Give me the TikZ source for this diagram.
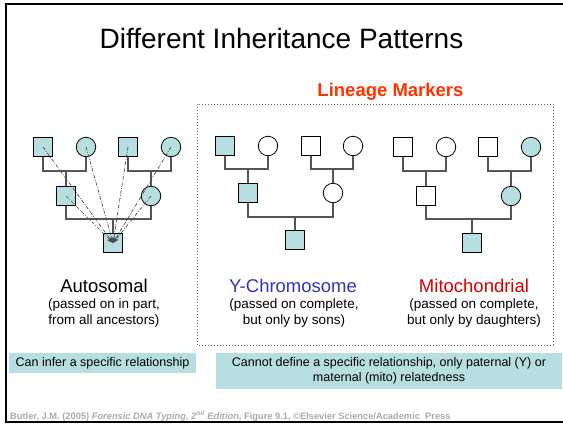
\documentclass[tikz,border=0pt]{standalone}
\usepackage{fontspec}
\setmainfont{Liberation Sans}
\usetikzlibrary{arrows.meta}

\definecolor{kin}{RGB}{183,222,224}
\definecolor{linkgray}{RGB}{85,85,85}
\definecolor{ychrom}{RGB}{51,51,187}
\definecolor{mito}{RGB}{214,0,0}
\definecolor{lineage}{RGB}{255,51,0}
\definecolor{credit}{RGB}{170,170,170}

\tikzset{
male/.style={rectangle, draw=black, line width=0.8pt, minimum size=18.5pt, inner sep=0pt, fill=white},
female/.style={circle, draw=black, line width=0.8pt, minimum size=19.5pt, inner sep=0pt, fill=white},
carrier/.style={fill=kin},
link/.style={draw=linkgray, line width=1.3pt},
trace/.style={draw=black!70, line width=0.7pt, dash pattern=on 3.5pt off 1.5pt on 0.8pt off 1.5pt,
  -{Stealth[length=6pt,width=4.5pt]}},
heading/.style={anchor=base, inner sep=0pt, font=\fontsize{18.5}{22}\selectfont},
remark/.style={anchor=north, inner sep=0pt, align=center, font=\fontsize{13.5}{16}\selectfont},
note/.style={rectangle, fill=kin, inner sep=0pt, align=center, font=\fontsize{12.5}{15.5}\selectfont},
}

\begin{document}
\begin{tikzpicture}[x=1pt, y=-1pt]
% 1px of the slide = 1pt, y runs downwards
\useasboundingbox (0,0) rectangle (563,424);
\draw[line width=2pt] (6,4) rectangle (567,422);

\node[anchor=base, inner sep=0pt, font=\fontsize{28}{32}\selectfont] (title) at (281.5,48) {Different Inheritance Patterns};
\node[anchor=base, inner sep=0pt, font=\bfseries\fontsize{18.5}{22}\selectfont, text=lineage] (lineage) at (390.5,96) {Lineage Markers};
\draw[dotted, draw=black!60, line width=1pt] (197,104) rectangle (553,345);

% autosomal
\node[male, carrier] (a1) at (43,147) {};
\node[female, carrier] (a2) at (86,147) {};
\node[male, carrier] (a3) at (128,147) {};
\node[female, carrier] (a4) at (171,147) {};
\node[male, carrier] (a5) at (66,196) {};
\node[female, carrier] (a6) at (151,196) {};
\node[male, carrier] (a7) at (113,243) {};
\coordinate (aj1) at (66,171);
\coordinate (aj2) at (151,171);
\coordinate (aj3) at (113,219);
\draw[link] (a1) |- (aj1) -| (a2);
\draw[link] (a3) |- (aj2) -| (a4);
\draw[link] (aj1) -- (a5);
\draw[link] (aj2) -- (a6);
\draw[link] (a5) |- (aj3) -| (a6);
\draw[link] (aj3) -- (a7);
\foreach \n in {a1,a2,a3,a4,a5,a6}
  \draw[trace] (\n.center) -- (a7.center);

% Y-chromosome
\node[male, carrier] (y1) at (225,146) {};
\node[female] (y2) at (268,146) {};
\node[male] (y3) at (311,146) {};
\node[female] (y4) at (353,146) {};
\node[male, carrier] (y5) at (248,193) {};
\node[female] (y6) at (333,193) {};
\node[male, carrier] (y7) at (295,240) {};
\coordinate (yj1) at (248,169);
\coordinate (yj2) at (333,169);
\coordinate (yj3) at (295,217);
\draw[link] (y1) |- (yj1) -| (y2);
\draw[link] (y3) |- (yj2) -| (y4);
\draw[link] (yj1) -- (y5);
\draw[link] (yj2) -- (y6);
\draw[link] (y5) |- (yj3) -| (y6);
\draw[link] (yj3) -- (y7);

% mitochondrial
\node[male] (m1) at (403,147) {};
\node[female] (m2) at (446,147) {};
\node[male] (m3) at (488,147) {};
\node[female, carrier] (m4) at (531,147) {};
\node[male] (m5) at (426,196) {};
\node[female, carrier] (m6) at (511,196) {};
\node[male, carrier] (m7) at (472,243) {};
\coordinate (mj1) at (426,171);
\coordinate (mj2) at (511,171);
\coordinate (mj3) at (472,219);
\draw[link] (m1) |- (mj1) -| (m2);
\draw[link] (m3) |- (mj2) -| (m4);
\draw[link] (mj1) -- (m5);
\draw[link] (mj2) -- (m6);
\draw[link] (m5) |- (mj3) -| (m6);
\draw[link] (mj3) -- (m7);

% captions
\node[heading] (auto) at (104,292) {Autosomal};
\node[remark] (autonote) at (104,299) {(passed on in part,\\from all ancestors)};
\node[heading, text=ychrom] (ychr) at (293,292) {Y-Chromosome};
\node[remark] (ychrnote) at (294,299) {(passed on complete,\\but only by sons)};
\node[heading, text=mito] (mtdna) at (474,292) {Mitochondrial};
\node[remark] (mtdnanote) at (474,299) {(passed on complete,\\but only by daughters)};

\node[note, minimum width=187pt, minimum height=20pt] (infer) at (102.5,363) {Can infer a specific relationship};
\node[note, minimum width=346pt, minimum height=36pt] (cannot) at (389,371) {Cannot define a specific relationship, only paternal (Y) or\\maternal (mito) relatedness};

\node[anchor=base west, inner sep=0pt, text=credit, font=\bfseries\fontsize{9.3}{11}\selectfont] (source) at (10,419)
  {Butler, J.M. (2005) \textit{Forensic DNA Typing, 2\textsuperscript{nd} Edition}, Figure 9.1, ©Elsevier Science/Academic\ \ Press};
\end{tikzpicture}
\end{document}
